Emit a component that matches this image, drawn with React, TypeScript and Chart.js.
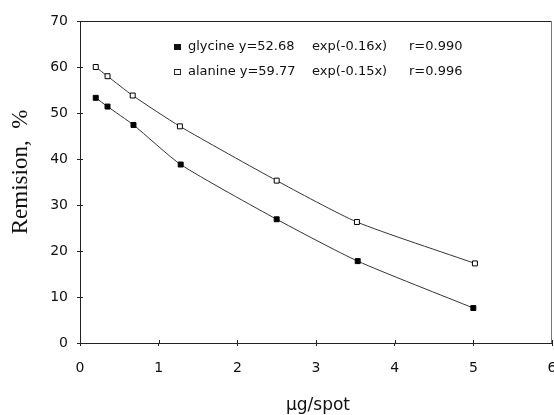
import React, { useEffect, useRef } from "react";
import { Chart, registerables } from "chart.js";

Chart.register(...registerables);

const xGly = [0.2, 0.35, 0.68, 1.28, 2.5, 3.53, 5.0];
const yGly = [53.3, 51.4, 47.4, 38.8, 26.9, 17.8, 7.6];
const xAla = [0.2, 0.35, 0.67, 1.27, 2.5, 3.52, 5.02];
const yAla = [60.0, 58.0, 53.8, 47.1, 35.3, 26.3, 17.3];
const legendLines = [
  { name: "glycine", eq: "y=52.68", exp: "exp(-0.16x)", r: "r=0.990", filled: true },
  { name: "alanine", eq: "y=59.77", exp: "exp(-0.15x)", r: "r=0.996", filled: false },
];
const xTitle = "μg/spot";
const yTitle = "Remision,  %";

const boxPlugin = {
  id: "boxAndLegend",
  afterDraw(chart: any) {
    const { ctx, chartArea } = chart;
    const xs = chart.scales.x;
    const ys = chart.scales.y;
    ctx.save();
    ctx.strokeStyle = "#222";
    ctx.lineWidth = 1;
    // top border
    ctx.beginPath();
    ctx.moveTo(chartArea.left, chartArea.top + 0.5);
    ctx.lineTo(chartArea.right, chartArea.top + 0.5);
    ctx.stroke();
    // right border
    ctx.strokeStyle = "#777";
    ctx.beginPath();
    ctx.moveTo(chartArea.right - 0.5, chartArea.top);
    ctx.lineTo(chartArea.right - 0.5, chartArea.bottom);
    ctx.stroke();
    // inner tick marks
    ctx.strokeStyle = "#222";
    ctx.beginPath();
    for (let v = 0; v <= 6; v++) {
      const px = Math.round(xs.getPixelForValue(v)) + 0.5;
      ctx.moveTo(px, chartArea.bottom);
      ctx.lineTo(px, chartArea.bottom - 3);
    }
    for (let v = 0; v <= 60; v += 10) {
      const py = Math.round(ys.getPixelForValue(v)) + 0.5;
      ctx.moveTo(chartArea.left, py);
      ctx.lineTo(chartArea.left + 3, py);
    }
    ctx.stroke();
    // legend
    ctx.fillStyle = "#111";
    ctx.font = "13px 'DejaVu Sans'";
    ctx.textBaseline = "middle";
    legendLines.forEach((l, i) => {
      const y = 47 + i * 25;
      if (l.filled) {
        ctx.fillRect(174, y - 3, 7, 6);
      } else {
        ctx.strokeRect(174.5, y - 2.5, 6, 5);
      }
      ctx.textAlign = "left";
      ctx.fillText(l.name + " " + l.eq, 188, y);
      ctx.fillText(l.exp, 312, y);
      ctx.fillText(l.r, 409, y);
    });
    // axis titles
    ctx.textAlign = "center";
    ctx.font = "17px 'DejaVu Sans'";
    ctx.fillText(xTitle, 318, 406);
    ctx.save();
    ctx.translate(21, 172);
    ctx.rotate(-Math.PI / 2);
    ctx.font = "23px 'Liberation Serif'";
    ctx.fillText(yTitle, 0, 0);
    ctx.restore();
    ctx.restore();
  },
};

export default function App() {
  const ref = useRef<HTMLCanvasElement>(null);
  useEffect(() => {
    document.body.style.margin = "0";
    const chart = new Chart(ref.current!, {
      type: "line",
      data: {
        datasets: [
          {
            label: "glycine",
            data: xGly.map((x, i) => ({ x, y: yGly[i] })),
            borderColor: "#333",
            borderWidth: 1,
            tension: 0.2,
            pointStyle: "rect",
            pointRadius: 3.5,
            pointBackgroundColor: "#000",
            pointBorderColor: "#000",
            pointBorderWidth: 1,
          },
          {
            label: "alanine",
            data: xAla.map((x, i) => ({ x, y: yAla[i] })),
            borderColor: "#333",
            borderWidth: 1,
            tension: 0.2,
            pointStyle: "rect",
            pointRadius: 3.5,
            pointBackgroundColor: "#fff",
            pointBorderColor: "#000",
            pointBorderWidth: 1,
          },
        ],
      },
      options: {
        animation: false,
        responsive: false,
        maintainAspectRatio: false,
        layout: { autoPadding: false, padding: { top: 21, right: 2, left: 0, bottom: 0 } },
        plugins: { legend: { display: false }, tooltip: { enabled: false } },
        scales: {
          x: {
            type: "linear",
            min: 0,
            max: 6,
            ticks: { stepSize: 1, color: "#111", font: { family: "DejaVu Sans", size: 14 }, padding: 14 },
            grid: { drawOnChartArea: false, drawTicks: true, tickLength: 3, color: "#222" },
            border: { color: "#222", width: 1 },
            afterFit(scale: any) {
              scale.height = 72;
              scale.paddingLeft = 0;
              scale.paddingRight = 0;
            },
          },
          y: {
            min: 0,
            max: 70,
            ticks: { stepSize: 10, color: "#111", font: { family: "DejaVu Sans", size: 14 }, padding: 9 },
            grid: { drawOnChartArea: false, drawTicks: true, tickLength: 3, color: "#222" },
            border: { color: "#222", width: 1 },
            afterFit(scale: any) {
              scale.width = 80;
              scale.paddingTop = 0;
              scale.paddingBottom = 0;
            },
          },
        },
      },
      plugins: [boxPlugin],
    });
    return () => chart.destroy();
  }, []);
  return (
    <div style={{ width: 554, height: 415 }}>
      <canvas ref={ref} width={554} height={415} style={{ display: "block" }} />
    </div>
  );
}
